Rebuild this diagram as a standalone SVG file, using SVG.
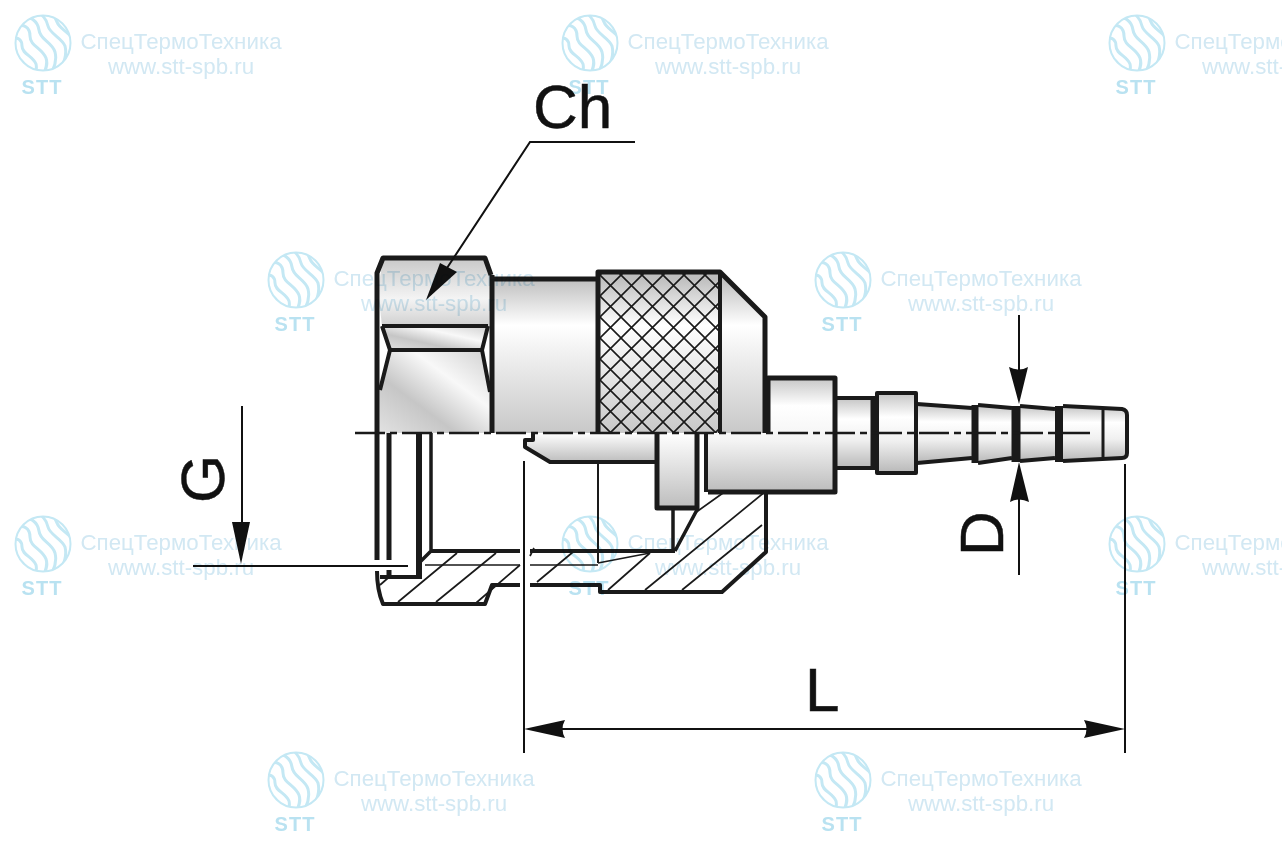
<svg xmlns="http://www.w3.org/2000/svg" xmlns:xlink="http://www.w3.org/1999/xlink" width="1282" height="854" viewBox="0 0 1282 854">
<style>
.o{fill:none;stroke:#1a1a1a;stroke-linecap:butt;stroke-linejoin:round}
.k{stroke-width:5}
.m{stroke-width:4}
.t{stroke-width:2}
.h{fill:none;stroke:#1a1a1a;stroke-width:1.7}
.a{fill:#111;stroke:none}
.d{fill:none;stroke:#111;stroke-width:2}
.lbl{font-family:"Liberation Sans",Arial,sans-serif;font-size:62px;fill:#111;stroke:#111;stroke-width:.5}
.w1{font-family:"Liberation Sans",Arial,sans-serif;font-size:22.3px;fill:#d2e8f3;text-anchor:middle}
.w2{font-family:"Liberation Sans",Arial,sans-serif;font-size:22.3px;fill:#d2e8f3;text-anchor:middle}
.w3{font-family:"Liberation Sans",Arial,sans-serif;font-size:20px;font-weight:bold;letter-spacing:1px;fill:#b9e2f1;text-anchor:middle}
.wm{mix-blend-mode:multiply}
.wv{fill:none;stroke:#c4e8f4;stroke-width:3}
</style>
<defs>
<linearGradient id="gv" x1="0" y1="0" x2="0" y2="1"><stop offset="0" stop-color="#c4c4c4"/><stop offset=".3" stop-color="#fff"/><stop offset=".6" stop-color="#f0f0f0"/><stop offset="1" stop-color="#b8b8b8"/></linearGradient>
<linearGradient id="gb" gradientUnits="userSpaceOnUse" x1="0" y1="279" x2="0" y2="433"><stop offset="0" stop-color="#bfbfbf"/><stop offset=".3" stop-color="#fff"/><stop offset="1" stop-color="#c8c8c8"/></linearGradient>
<linearGradient id="gc" gradientUnits="userSpaceOnUse" x1="0" y1="377" x2="0" y2="492"><stop offset="0" stop-color="#c4c4c4"/><stop offset=".25" stop-color="#fff"/><stop offset=".55" stop-color="#f4f4f4"/><stop offset="1" stop-color="#bcbcbc"/></linearGradient>
<linearGradient id="gl" x1="0" y1="0" x2="0" y2="1"><stop offset="0" stop-color="#fff"/><stop offset="1" stop-color="#bdbdbd"/></linearGradient>
<linearGradient id="gn" x1="0" y1="0" x2="0" y2="1"><stop offset="0" stop-color="#c8c8c8"/><stop offset=".6" stop-color="#f4f4f4"/><stop offset="1" stop-color="#d0d0d0"/></linearGradient>
<linearGradient id="gd" x1="0" y1="1" x2="1" y2="0"><stop offset="0" stop-color="#e2e2e2"/><stop offset=".35" stop-color="#c6c6c6"/><stop offset=".65" stop-color="#f8f8f8"/><stop offset="1" stop-color="#d0d0d0"/></linearGradient>
<pattern id="kn" width="21" height="21" patternUnits="userSpaceOnUse" x="600" y="275">
<path d="M-2,-2L23,23M23,-2L-2,23" fill="none" stroke="#1a1a1a" stroke-width="1.6"/>
</pattern>
<clipPath id="cc"><circle cx="43" cy="43" r="28"/></clipPath>
<g id="logo">
<circle cx="43" cy="43" r="27.5" fill="none" stroke="#c4e8f4" stroke-width="2"/>
<g clip-path="url(#cc)">
<path class="wv" d="M14,28C24,22 30,28 30,36C30,46 42,48 46,58C48,64 46,68 44,74"/>
<path class="wv" d="M20,18C30,14 38,22 39,30C40,40 52,42 55,52C57,60 55,66 52,72"/>
<path class="wv" d="M30,12C40,10 46,18 48,26C50,34 62,38 65,46C67,54 65,60 62,66"/>
<path class="wv" d="M42,10C50,10 55,16 57,22C59,28 68,32 72,38"/>
<path class="wv" d="M12,40C18,36 22,40 22,46C22,54 33,56 36,64C37,68 36,72 34,76"/>
<path class="wv" d="M12,52C16,50 15,56 18,58C22,61 26,64 27,72"/>
</g>
</g>
</defs>
<rect width="1282" height="854" fill="#fff"/>

<g id="fitting">
<path fill="#fff" d="M431,551H675L698,508L708,492H766V552L722,592H600V586H492L486,605H383L377,577H422V563Z"/>
<g id="hatch">
<path class="h" d="M398,602L457,553M436,602L496,553M476,603L520,565M380,585L388,578M537,582L573,552M530,556L534,548M608,590L650,553M645,590L766,491M682,590L762,525M695,513L723,493"/>
<path class="h" d="M425,565H520M530,565H598M598,563L650,553"/>
</g>
<path fill="url(#gn)" d="M383,258H485L490,275L489,326H382L378,290Z"/>
<path fill="url(#gd)" d="M382,326H488L482,350H390Z"/>
<path fill="url(#gd)" d="M390,350H482L490,392V433H378V392Z"/>
<path fill="url(#gb)" d="M492,279H598V433H492Z"/>
<path fill="url(#gb)" d="M598,272H720V433H598Z"/>
<path fill="url(#kn)" d="M598,272H720V433H598Z"/>
<path fill="url(#gb)" d="M720,272L765,317V433H720Z"/>
<path fill="url(#gl)" d="M533,433V440H525V447L550,462H657V433Z"/>
<path fill="url(#gl)" d="M657,433H697V508H657Z"/>
<path fill="url(#gc)" d="M706,433H768V378H835V492H706Z"/>
<path fill="url(#gv)" d="M837,398H875V468H837Z"/>
<path fill="url(#gv)" d="M877,393H916V473H877Z"/>
<path fill="url(#gv)" d="M917,404L972,408V458L917,463Z"/>
<path fill="url(#gv)" d="M978,405L1012,408V458L978,463Z"/>
<path fill="url(#gv)" d="M1020,406L1055,409V457L1020,461Z"/>
<path fill="url(#gv)" d="M1063,406L1122,409Q1127,410 1127,415V453Q1127,458 1122,458L1063,461Z"/>

<g id="outline">
<path class="o k" d="M377,433V273L383,258H485L491,275"/>
<path class="o k" d="M492,275V433"/>
<path class="o m" d="M382,326H488M390,350H482"/>
<path class="o m" d="M380,390L390,350L382,326M490,392L482,350L488,326"/>
<path class="o k" d="M492,279H598"/>
<path class="o k" d="M598,433V272H720L765,317V433"/>
<path class="o m" d="M720,272V433"/>
<path class="o k" d="M768,433V378H835V492H708"/>
<path class="o m" d="M837,398H873M837,468H873"/>
<path class="o k" d="M873,396V470"/>
<path class="o m" d="M877,393H916V473H877Z"/>
<path class="o m" d="M917,404L972,408M917,463L972,458"/>
<path class="o" stroke-width="7" d="M975,405V463"/>
<path class="o m" d="M978,405L1012,408M978,463L1012,458"/>
<path class="o" stroke-width="9" d="M1016,406V462"/>
<path class="o m" d="M1020,406L1055,409M1020,461L1055,458"/>
<path class="o" stroke-width="8" d="M1059,406V462"/>
<path class="o m" d="M1063,406L1122,409Q1127,410 1127,415V453Q1127,458 1122,458L1063,461"/>
<path class="o" stroke-width="3" d="M1103,410V457"/>
<path class="o m" d="M533,433V440H525V447L550,462H657"/>
<path class="o k" d="M657,433V508H697V433"/>
<path class="o m" d="M706,433V492"/>
<path class="o t" d="M598,462V563"/>
<path class="o" stroke-width="3.5" d="M673,508V551M698,508L675,551"/>
<path class="o k" d="M377,433V560M389,433V560M389,570V577"/>
<path class="o" stroke-width="6" d="M419,433V578"/>
<path class="o" stroke-width="3.5" d="M431,433V551L419,563"/>
<path class="o m" d="M431,551H520M530,551H675"/>
<path class="o m" d="M380,577H422"/>
<path class="o m" d="M377,571Q377,590 383,604H485L492,585H520M530,585H600V592H722L766,552V490"/>
</g>
<path class="o" stroke-width="2.5" stroke-dasharray="30 5 7 5" d="M355,433H1095"/>
</g>

<g id="dimensions">
<path class="d" d="M635,142H530L447,268"/>
<path class="a" d="M426,300L440,263L457,272Z"/>
<path class="d" d="M242,406V530M193,566H408"/>
<path class="a" d="M241,564L232,522H250Z"/>
<path class="d" d="M1019,315V375M1019,490V575"/>
<path class="a" d="M1019,404L1009,367Q1019,372 1028,367Z"/>
<path class="a" d="M1019,462L1010,502Q1019,497 1029,502Z"/>
<path class="d" d="M524,461V753M1125,464V753M560,729H1090"/>
<path class="a" d="M524,729L565,720Q560,729 565,738Z"/>
<path class="a" d="M1125,729L1084,720Q1089,729 1084,738Z"/>
<text class="lbl" x="533" y="128">Ch</text>
<text class="lbl" x="805" y="711">L</text>
<text class="lbl" transform="translate(224 503) rotate(-90)">G</text>
<text class="lbl" transform="translate(1003 556) rotate(-90)">D</text>
</g>

<g id="watermarks" class="wm">
<g id="wm1"><use xlink:href="#logo" href="#logo"/><text class="w1" x="181" y="49">СпецТермоТехника</text><text class="w2" x="181" y="74">www.stt-spb.ru</text><text class="w3" x="42" y="94">STT</text></g>
<g id="wm2" transform="translate(547 0)"><use xlink:href="#logo" href="#logo"/><text class="w1" x="181" y="49">СпецТермоТехника</text><text class="w2" x="181" y="74">www.stt-spb.ru</text><text class="w3" x="42" y="94">STT</text></g>
<g id="wm3" transform="translate(1094 0)"><use xlink:href="#logo" href="#logo"/><text class="w1" x="181" y="49">СпецТермоТехника</text><text class="w2" x="181" y="74">www.stt-spb.ru</text><text class="w3" x="42" y="94">STT</text></g>
<g id="wm4" transform="translate(253 237)"><use xlink:href="#logo" href="#logo"/><text class="w1" x="181" y="49">СпецТермоТехника</text><text class="w2" x="181" y="74">www.stt-spb.ru</text><text class="w3" x="42" y="94">STT</text></g>
<g id="wm5" transform="translate(800 237)"><use xlink:href="#logo" href="#logo"/><text class="w1" x="181" y="49">СпецТермоТехника</text><text class="w2" x="181" y="74">www.stt-spb.ru</text><text class="w3" x="42" y="94">STT</text></g>
<g id="wm6" transform="translate(0 501)"><use xlink:href="#logo" href="#logo"/><text class="w1" x="181" y="49">СпецТермоТехника</text><text class="w2" x="181" y="74">www.stt-spb.ru</text><text class="w3" x="42" y="94">STT</text></g>
<g id="wm7" transform="translate(547 501)"><use xlink:href="#logo" href="#logo"/><text class="w1" x="181" y="49">СпецТермоТехника</text><text class="w2" x="181" y="74">www.stt-spb.ru</text><text class="w3" x="42" y="94">STT</text></g>
<g id="wm8" transform="translate(1094 501)"><use xlink:href="#logo" href="#logo"/><text class="w1" x="181" y="49">СпецТермоТехника</text><text class="w2" x="181" y="74">www.stt-spb.ru</text><text class="w3" x="42" y="94">STT</text></g>
<g id="wm9" transform="translate(253 737)"><use xlink:href="#logo" href="#logo"/><text class="w1" x="181" y="49">СпецТермоТехника</text><text class="w2" x="181" y="74">www.stt-spb.ru</text><text class="w3" x="42" y="94">STT</text></g>
<g id="wm10" transform="translate(800 737)"><use xlink:href="#logo" href="#logo"/><text class="w1" x="181" y="49">СпецТермоТехника</text><text class="w2" x="181" y="74">www.stt-spb.ru</text><text class="w3" x="42" y="94">STT</text></g>
</g>
</svg>
